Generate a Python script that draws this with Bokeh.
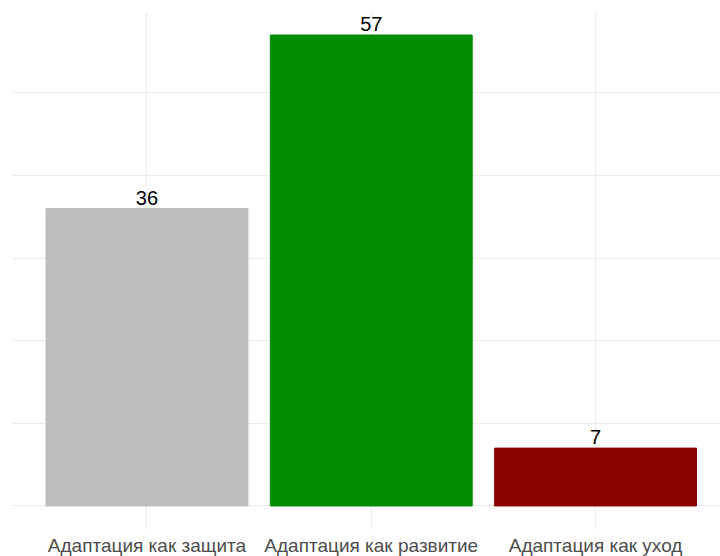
from bokeh.plotting import figure
from bokeh.models import ColumnDataSource, FixedTicker, Range1d, LabelSet
from bokeh.core.properties import value
from bokeh.embed import file_html
from bokeh.resources import INLINE

categories = ["Адаптация как защита", "Адаптация как развитие", "Адаптация как уход"]
values = [36, 57, 7]
colors = ["#bebebe", "#008b00", "#8b0000"]
y_ticks = [0, 10, 20, 30, 40, 50]

xs = list(range(1, len(categories) + 1))
src = ColumnDataSource(dict(x=xs, top=values, color=colors, label=[str(v) for v in values]))

p = figure(width=720, height=556, frame_width=709, frame_height=518,
           output_backend="svg", toolbar_location=None,
           x_range=Range1d(0.396, 3.557), y_range=Range1d(-2.85, 59.85),
           min_border_left=11, min_border_top=11, min_border_right=0, min_border_bottom=0)
p.outline_line_color = None
p.background_fill_color = "white"
p.border_fill_color = "white"

p.vbar(x="x", top="top", bottom=0, width=0.9, color="color", source=src)

labels = LabelSet(x="x", y="top", text="label", source=src, text_align="center",
                  text_baseline="bottom", y_offset=4, text_font_size="20px",
                  text_color="black", text_font=value("Liberation Sans"))
p.add_layout(labels)

p.xaxis.ticker = FixedTicker(ticks=xs)
p.xaxis.major_label_overrides = {x: c for x, c in zip(xs, categories)}
p.xaxis.axis_line_color = None
p.xaxis.major_tick_line_color = None
p.xaxis.minor_tick_line_color = None
p.xaxis.major_tick_out = 0
p.xaxis.major_tick_in = 0
p.xaxis.major_label_text_font = "Liberation Sans"
p.xaxis.major_label_text_font_size = "19px"
p.xaxis.major_label_text_color = "#4d4d4d"
p.xaxis.major_label_standoff = 5

p.yaxis.visible = False
p.yaxis.ticker = FixedTicker(ticks=y_ticks)
p.xgrid.ticker = FixedTicker(ticks=xs)
p.ygrid.ticker = FixedTicker(ticks=y_ticks)
p.xgrid.grid_line_color = "#ebebeb"
p.ygrid.grid_line_color = "#ebebeb"
p.xgrid.grid_line_width = 1.1
p.ygrid.grid_line_width = 1.1

open("out.html", "w").write(file_html(p, INLINE))
